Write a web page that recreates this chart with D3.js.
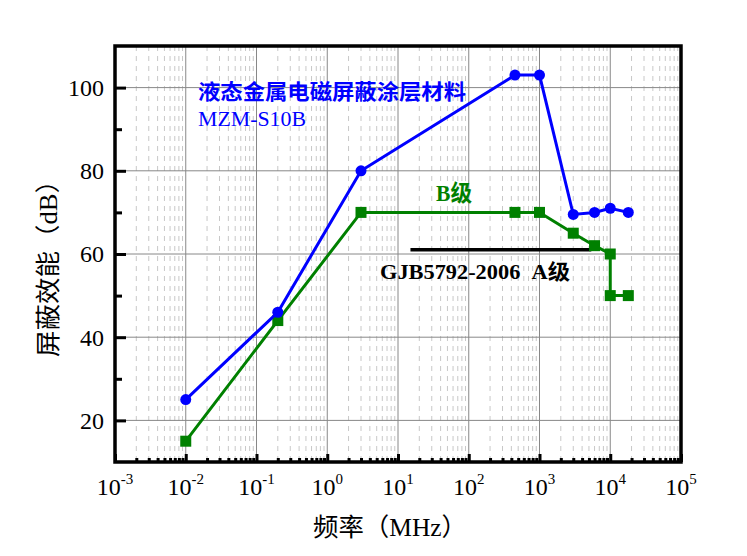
<!DOCTYPE html>
<html><head><meta charset="utf-8">
<script src="https://cdn.jsdelivr.net/npm/d3@7"></script>
<style>
html,body{margin:0;padding:0;background:#fff;}
svg{display:block;}
text{font-family:"Liberation Serif","Times New Roman","Noto Sans CJK SC",serif;}
</style></head>
<body>
<svg id="chart" width="747" height="556"></svg>
<script>
// Data
const freqBlue = [0.01, 0.2, 3, 450, 1000, 3000, 6000, 10000, 18000];
const seBlue   = [25, 46, 80, 103, 103, 69.5, 70, 71, 70];
const freqGreen = [0.01, 0.2, 3, 450, 1000, 3000, 6000, 10000, 10000, 18000];
const seGreen   = [15, 44, 70, 70, 70, 65, 62, 60, 50, 50];
const gjbFreq = [15, 5400];
const gjbSE = [61, 61];
const xTickExps = [-3, -2, -1, 0, 1, 2, 3, 4, 5];
const yTicks = [20, 40, 60, 80, 100];
const yMinorTicks = [30, 50, 70, 90];
const labelMaterial = "液态金属电磁屏蔽涂层材料";
const labelModel = "MZM-S10B";
const labelB = "B级";
const labelA = "GJB5792-2006\u00a0\u00a0A级";
const xTitle = "频率（MHz）";
const yTitle = "屏蔽效能（dB）";

const svg = d3.select("#chart");
const L = 115, R = 681, T = 46, B = 462;
const x = d3.scaleLog().domain([1e-3, 1e5]).range([L, R]);
const y = d3.scaleLinear().domain([10, 110]).range([B, T]);

// minor x values
const minorX = [];
for (let e = -3; e < 5; e++) for (let m = 2; m <= 9; m++) minorX.push(m * Math.pow(10, e));

// grid
const g = svg.append("g");
g.selectAll(".mg").data(minorX).join("line")
  .attr("x1", d => x(d)).attr("x2", d => x(d)).attr("y1", T).attr("y2", B)
  .attr("stroke", "#c8c8c8").attr("stroke-width", 1).attr("stroke-dasharray", "5,5");
g.selectAll(".Mg").data(xTickExps.slice(1, -1)).join("line")
  .attr("x1", d => x(Math.pow(10, d))).attr("x2", d => x(Math.pow(10, d))).attr("y1", T).attr("y2", B)
  .attr("stroke", "#888").attr("stroke-width", 1);
g.selectAll(".Hg").data(yTicks).join("line")
  .attr("x1", L).attr("x2", R).attr("y1", d => y(d)).attr("y2", d => y(d))
  .attr("stroke", "#888").attr("stroke-width", 1);

// axes ticks (inward)
const xAxisMajor = d3.axisBottom(x).tickValues(xTickExps.map(e => Math.pow(10, e))).tickSize(-8).tickFormat("");
const xAxisMinor = d3.axisBottom(x).tickValues(minorX).tickSize(-4).tickFormat("");
const yAxisMajor = d3.axisLeft(y).tickValues(yTicks).tickSize(-11).tickFormat("");
const yAxisMinor = d3.axisLeft(y).tickValues(yMinorTicks).tickSize(-7).tickFormat("");
[[xAxisMajor, "translate(0," + B + ")"], [xAxisMinor, "translate(0," + B + ")"],
 [yAxisMajor, "translate(" + L + ",0)"], [yAxisMinor, "translate(" + L + ",0)"]].forEach(([ax, tr]) => {
  const a = svg.append("g").attr("transform", tr).call(ax);
  a.select(".domain").remove();
  a.selectAll("line").attr("stroke", "#000").attr("stroke-width", 3);
});

// frame
svg.append("rect").attr("x", L).attr("y", T).attr("width", R - L).attr("height", B - T)
  .attr("fill", "none").attr("stroke", "#000").attr("stroke-width", 3.5);

// tick labels
svg.selectAll(".yl").data(yTicks).join("text")
  .attr("x", L - 11).attr("y", d => y(d)).attr("dy", "0.35em")
  .attr("text-anchor", "end").attr("font-size", 24).attr("fill", "#000").text(d => d);
const xl = svg.selectAll(".xl").data(xTickExps).join("text")
  .attr("x", d => x(Math.pow(10, d))).attr("y", 495)
  .attr("text-anchor", "middle").attr("font-size", 24).attr("fill", "#000");
xl.append("tspan").text("10");
xl.append("tspan").attr("font-size", 15).attr("dy", -11).text(d => d);

// axis titles
svg.append("text").attr("x", 313).attr("y", 536)
  .attr("font-size", 25).attr("textLength", 154).attr("lengthAdjust", "spacingAndGlyphs")
  .attr("fill", "#000").text(xTitle);
svg.append("text").attr("transform", "translate(57,357) rotate(-90)")
  .attr("font-size", 25).attr("textLength", 190).attr("lengthAdjust", "spacingAndGlyphs")
  .attr("fill", "#000").text(yTitle);

// lines
const line = d3.line().x(d => x(d[0])).y(d => y(d[1]));
const blue = "#0000ff", green = "#008000";
svg.append("path").datum(gjbFreq.map((f, i) => [f, gjbSE[i]])).attr("d", line)
  .attr("fill", "none").attr("stroke", "#000").attr("stroke-width", 3.5);
const gd = freqGreen.map((f, i) => [f, seGreen[i]]);
svg.append("path").datum(gd).attr("d", line)
  .attr("fill", "none").attr("stroke", green).attr("stroke-width", 3);
svg.selectAll(".sq").data(gd).join("rect")
  .attr("x", d => x(d[0]) - 5.5).attr("y", d => y(d[1]) - 5.5).attr("width", 11).attr("height", 11)
  .attr("fill", green);
const bd = freqBlue.map((f, i) => [f, seBlue[i]]);
svg.append("path").datum(bd).attr("d", line)
  .attr("fill", "none").attr("stroke", blue).attr("stroke-width", 3);
svg.selectAll(".ci").data(bd).join("circle")
  .attr("cx", d => x(d[0])).attr("cy", d => y(d[1])).attr("r", 5.5).attr("fill", blue);

// annotations
svg.append("text").attr("x", 198).attr("y", 99).attr("font-size", 21).attr("font-weight", "bold")
  .attr("textLength", 268).attr("lengthAdjust", "spacingAndGlyphs").attr("fill", blue).text(labelMaterial);
svg.append("text").attr("x", 198).attr("y", 126).attr("font-size", 22)
  .attr("textLength", 108).attr("lengthAdjust", "spacingAndGlyphs").attr("fill", blue).text(labelModel);
svg.append("text").attr("x", 436).attr("y", 201).attr("font-size", 23).attr("font-weight", "bold")
  .attr("textLength", 36).attr("lengthAdjust", "spacingAndGlyphs").attr("fill", green).text(labelB);
svg.append("text").attr("x", 380).attr("y", 279).attr("font-size", 21).attr("font-weight", "bold")
  .attr("textLength", 190).attr("lengthAdjust", "spacingAndGlyphs").attr("fill", "#000").text(labelA);
</script>
</body></html>
